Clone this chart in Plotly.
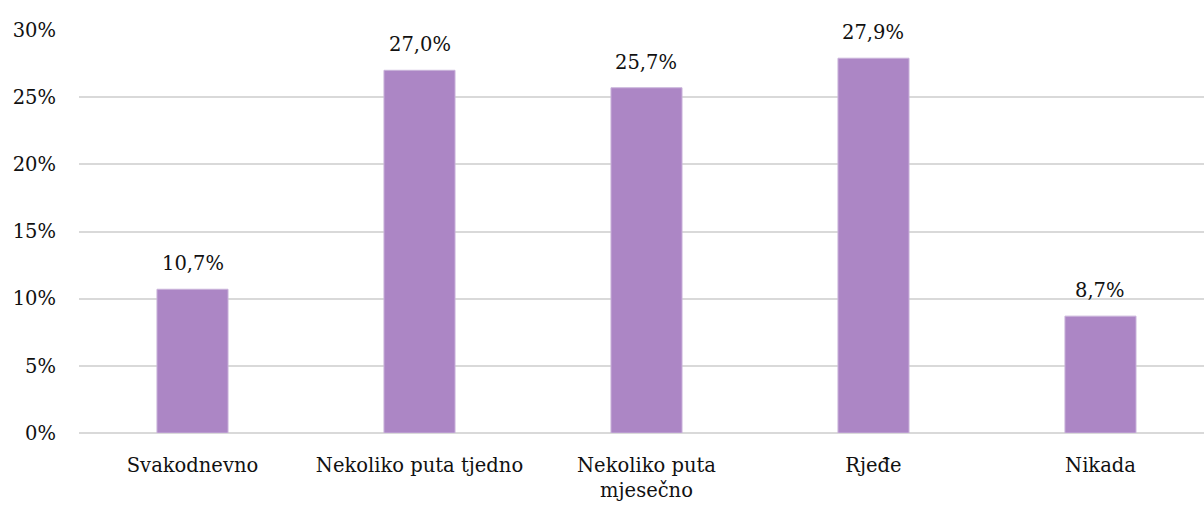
import plotly.graph_objects as go

categories = ["Svakodnevno", "Nekoliko puta tjedno", "Nekoliko puta<br>mjesečno", "Rjeđe", "Nikada"]
values = [10.7, 27.0, 25.7, 27.9, 8.7]
labels = ["10,7%", "27,0%", "25,7%", "27,9%", "8,7%"]
tick_vals = [0, 5, 10, 15, 20, 25, 30]
tick_text = ["0%", "5%", "10%", "15%", "20%", "25%", "30%"]

FONT = "DejaVu Serif"
SIZE = 19.5
fig = go.Figure(go.Bar(
    x=categories, y=values,
    marker=dict(color="#AC86C5", line=dict(color="#C9B3DA", width=1)),
    hoverinfo="skip",
))
for c, v, t in zip(categories, values, labels):
    fig.add_annotation(x=c, y=v, text=t, showarrow=False, yanchor="bottom",
                       yshift=12, font=dict(family=FONT, size=SIZE, color="#111111"))

fig.update_layout(
    width=1204, height=506,
    margin=dict(l=79, r=0, t=30, b=73),
    plot_bgcolor="white", paper_bgcolor="white",
    bargap=0.687,
    showlegend=False,
    font=dict(family=FONT, size=SIZE, color="#111111"),
)
fig.update_yaxes(range=[0, 30], tickvals=tick_vals, ticktext=tick_text,
                 showgrid=True, gridcolor="#D9D9D9", gridwidth=2,
                 zeroline=True, zerolinecolor="#D9D9D9", zerolinewidth=2,
                 ticklabelstandoff=22, tickfont=dict(family=FONT, size=SIZE))
fig.update_xaxes(showgrid=False, ticklabelstandoff=18, tickfont=dict(family=FONT, size=SIZE),
                 tickangle=0, range=[-0.5, 4.456])
fig.write_html("out.html")
